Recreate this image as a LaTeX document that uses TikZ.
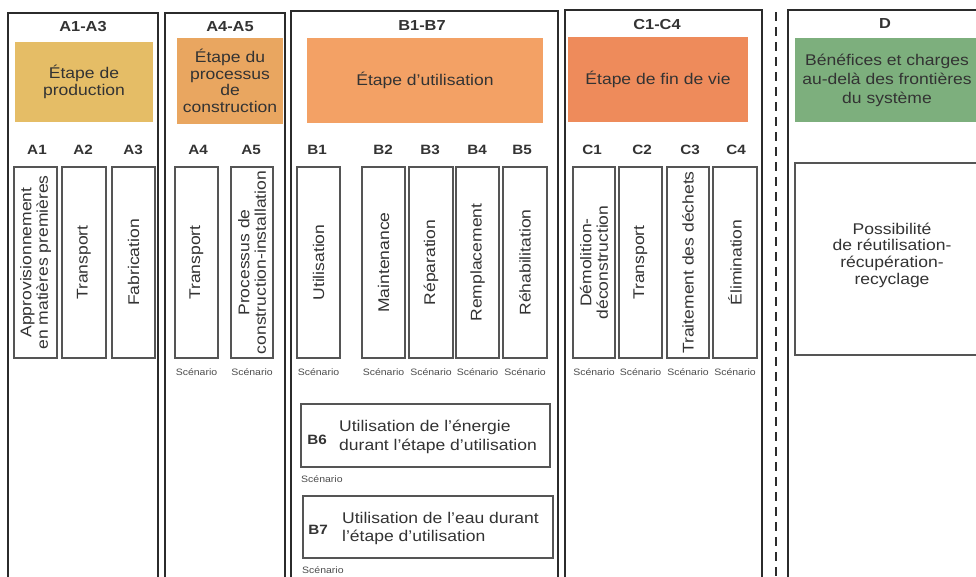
\documentclass[tikz,border=0pt]{standalone}
\usepackage{fontspec}
\setmainfont{Liberation Sans}[FakeStretch=1.13]
\definecolor{cA}{HTML}{E5BD66}
\definecolor{cAB}{HTML}{E9A660}
\definecolor{cB}{HTML}{F3A165}
\definecolor{cC}{HTML}{EE8B5B}
\definecolor{cD}{HTML}{7DAF7D}
\definecolor{ink}{HTML}{333333}
\definecolor{framec}{HTML}{2B2B2B}
\definecolor{boxc}{HTML}{555555}
\begin{document}
\begin{tikzpicture}[x=1pt,y=-1pt,
  frame/.style={draw=framec,line width=1.8pt},
  cbox/.style={inner sep=0pt,text=ink,align=center,font=\fontsize{15.5}{16.5}\selectfont},
  vbox/.style={draw=boxc,line width=1.1pt,inner sep=0pt},
  vtext/.style={rotate=90,align=center,text=ink,inner sep=0pt,font=\fontsize{15.5}{16.5}\selectfont},
  hdr/.style={font=\bfseries\fontsize{14.5}{16}\selectfont,text=ink},
  clab/.style={font=\bfseries\fontsize{13.5}{15}\selectfont,text=ink},
  scen/.style={font=\fontsize{9.3}{10}\selectfont,text=black!70,inner sep=0pt},
  htext/.style={align=left,text=ink,inner sep=0pt,font=\fontsize{15.5}{19}\selectfont},
]
\useasboundingbox (0,0) rectangle (976,576);
\clip (0,0) rectangle (976,576);
\fill[white] (0,0) rectangle (976,576);

% frames
\draw[frame] (8,13) rectangle (158,600);
\draw[frame] (165,13) rectangle (285,600);
\draw[frame] (291,11) rectangle (558,600);
\draw[frame] (565,10) rectangle (762,600);
\draw[frame] (788,10) rectangle (1000,600);
\draw[framec,line width=1.6pt,dash pattern=on 9pt off 6pt] (776,12) -- (776,576);

% headers
\node[hdr] (hA) at (83,27) {A1-A3};
\node[hdr] (hAB) at (230,27) {A4-A5};
\node[hdr] (hB) at (422,26) {B1-B7};
\node[hdr] (hC) at (657,25) {C1-C4};
\node[hdr] (hD) at (885,24) {D};

% coloured stage boxes
\node[cbox,fill=cA,minimum width=138pt,minimum height=80pt] (pA) at (84,82) {Étape de\\production};
\node[cbox,fill=cAB,minimum width=106pt,minimum height=86pt] (pAB) at (230,81) {Étape du\\processus\\de\\construction};
\node[cbox,fill=cB,minimum width=236pt,minimum height=85pt] (pB) at (425,80.5) {Étape d’utilisation};
\node[cbox,fill=cC,minimum width=180pt,minimum height=85pt] (pC) at (658,79.5) {Étape de fin de vie};
\node[cbox,fill=cD,minimum width=184pt,minimum height=84pt,font=\fontsize{15.5}{19}\selectfont] (pD) at (887,80) {Bénéfices et charges\\au-delà des frontières\\du système};

% column labels
\node[clab] (lA1) at (37,150) {A1};
\node[clab] (lA2) at (83,150) {A2};
\node[clab] (lA3) at (133,150) {A3};
\node[clab] (lA4) at (198,150) {A4};
\node[clab] (lA5) at (251,150) {A5};
\node[clab] (lB1) at (317,150) {B1};
\node[clab] (lB2) at (383,150) {B2};
\node[clab] (lB3) at (430,150) {B3};
\node[clab] (lB4) at (477,150) {B4};
\node[clab] (lB5) at (522,150) {B5};
\node[clab] (lC1) at (592,150) {C1};
\node[clab] (lC2) at (642,150) {C2};
\node[clab] (lC3) at (690,150) {C3};
\node[clab] (lC4) at (736,150) {C4};

% vertical module boxes
\node[vbox,minimum width=43pt,minimum height=191pt] (a1) at (35.5,262.5) {};
\node[vtext] at (a1) {Approvisionnement\\en matières premières};
\node[vbox,minimum width=44pt,minimum height=191pt] (a2) at (84,262.5) {};
\node[vtext] at (a2) {Transport};
\node[vbox,minimum width=43pt,minimum height=191pt] (a3) at (133.5,262.5) {};
\node[vtext] at (a3) {Fabrication};
\node[vbox,minimum width=43pt,minimum height=191pt] (a4) at (196.5,262.5) {};
\node[vtext] at (a4) {Transport};
\node[vbox,minimum width=42pt,minimum height=191pt] (a5) at (252,262.5) {};
\node[vtext] at (a5) {Processus de\\construction-installation};
\node[vbox,minimum width=43pt,minimum height=191pt] (b1) at (318.5,262.5) {};
\node[vtext] at (b1) {Utilisation};
\node[vbox,minimum width=43pt,minimum height=191pt] (b2) at (383.5,262.5) {};
\node[vtext] at (b2) {Maintenance};
\node[vbox,minimum width=44pt,minimum height=191pt] (b3) at (431,262.5) {};
\node[vtext] at (b3) {Réparation};
\node[vbox,minimum width=43pt,minimum height=191pt] (b4) at (477.5,262.5) {};
\node[vtext] at (b4) {Remplacement};
\node[vbox,minimum width=44pt,minimum height=191pt] (b5) at (525,262.5) {};
\node[vtext] at (b5) {Réhabilitation};
\node[vbox,minimum width=42pt,minimum height=191pt] (c1) at (594,262.5) {};
\node[vtext] at (c1) {Démolition-\\déconstruction};
\node[vbox,minimum width=43pt,minimum height=191pt] (c2) at (640.5,262.5) {};
\node[vtext] at (c2) {Transport};
\node[vbox,minimum width=42pt,minimum height=191pt] (c3) at (688,262.5) {};
\node[vtext] at (c3) {Traitement des déchets};
\node[vbox,minimum width=44pt,minimum height=191pt] (c4) at (735,262.5) {};
\node[vtext] at (c4) {Élimination};

% D box
\node[vbox,minimum width=200pt,minimum height=192pt] (d) at (895,259) {};
\node[cbox,font=\fontsize{15.5}{16.7}\selectfont] (dt) at (892,255) {Possibilité\\de réutilisation-\\récupération-\\recyclage};

% scenario labels
\foreach \n in {a4,a5,b1,b2,b3,b4,b5,c1,c2,c3,c4}{
  \node[scen] (s\n) at (\n.south |- 0,372) {Scénario};
}

% B6 / B7
\node[vbox,minimum width=249pt,minimum height=63pt] (b6) at (425.5,435.5) {};
\node[clab] (lB6) at (317,440) {B6};
\node[htext,anchor=west] (tB6) at (339,437) {Utilisation de l’énergie\\durant l’étape d’utilisation};
\node[scen,anchor=west] (sb6) at (301,479) {Scénario};

\node[vbox,minimum width=250pt,minimum height=62pt] (b7) at (428,527) {};
\node[clab] (lB7) at (318,530) {B7};
\node[htext,anchor=west,font=\fontsize{15.5}{18}\selectfont] (tB7) at (342,528) {Utilisation de l’eau durant\\l’étape d’utilisation};
\node[scen,anchor=west] (sb7) at (302,570) {Scénario};
\end{tikzpicture}
\end{document}
